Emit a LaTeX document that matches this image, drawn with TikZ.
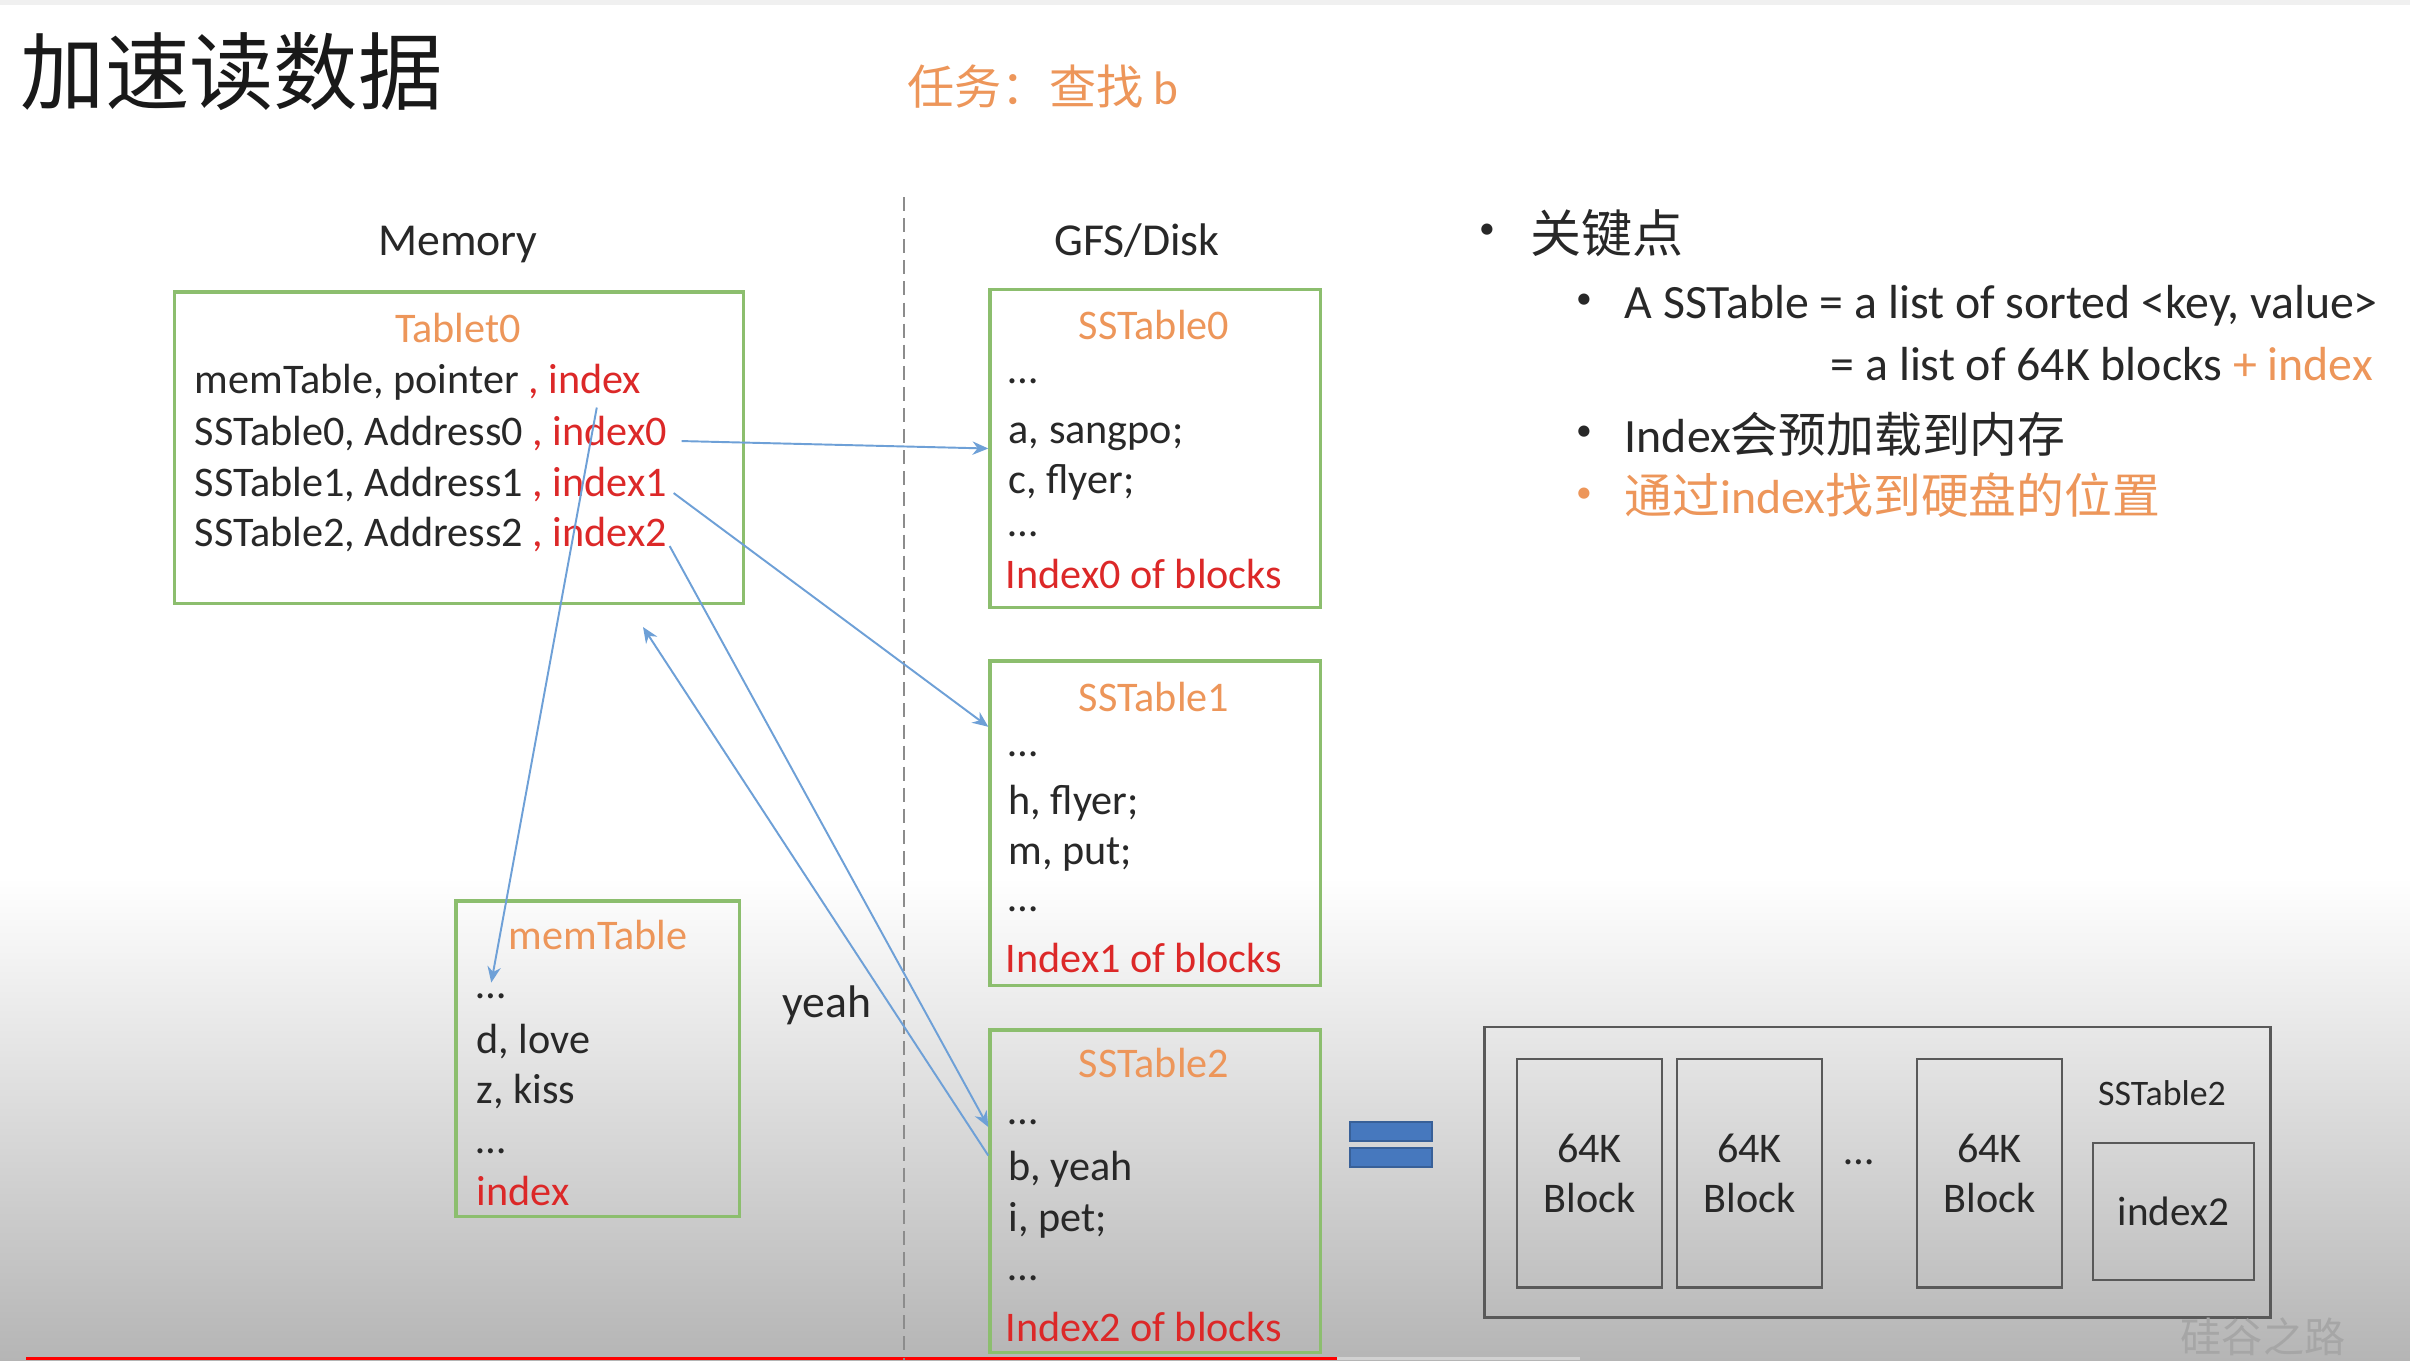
\documentclass[tikz,border=0pt]{standalone}
\usepackage{fontspec}
\setmainfont{Carlito}
\newfontfamily\cjk{Noto Sans CJK SC}
\usepackage{tikz}
\usetikzlibrary{arrows.meta,positioning,calc}
\usepackage{xcolor}
\definecolor{boxgreen}{RGB}{140,190,110}
\definecolor{taborange}{RGB}{237,150,90}
\definecolor{idxred}{RGB}{220,40,40}
\definecolor{linkblue}{RGB}{110,160,215}
\definecolor{eqblue}{RGB}{70,120,190}
\definecolor{inkgray}{RGB}{40,40,40}

\begin{document}
\begin{tikzpicture}[x=0.01cm,y=-0.01cm,>={Stealth[length=4.5pt,width=3.8pt]},
  font=\fontsize{12}{14}\selectfont,text=inkgray]
\tikzstyle{box}=[draw=boxgreen,line width=0.9pt,inner sep=0pt]
\tikzstyle{row}=[anchor=base west,inner sep=0pt]
\tikzstyle{head}=[anchor=base,inner sep=0pt,text=taborange]
\tikzstyle{link}=[draw=linkblue,line width=0.55pt,->]
\tikzstyle{blk}=[draw=black!65,line width=0.8pt,inner sep=0pt,align=center]
\tikzstyle{dot}=[anchor=center,inner sep=0pt,font=\fontsize{9}{10}\selectfont]
\useasboundingbox (0,0) rectangle (2410,1360);
% slide background
\fill[white] (0,0) rectangle (2410,1360);
\shade[top color=white,bottom color=black!29] (0,877) rectangle (2410,1360);
\fill[black!6] (0,0) rectangle (2410,5);
\fill[black!18] (1337,1357) rectangle (1580,1360);
\fill[red] (26,1357) rectangle (1337,1360);

\node[row,text=black!90,font=\cjk\fontsize{24}{28}\selectfont] (title) at (20,103) {加速读数据};
\node[row,text=taborange,font=\fontsize{13.4}{16}\selectfont] (task) at (907,104) {{\cjk 任务：查找} b};
\node[anchor=base,inner sep=0pt,font=\fontsize{13}{16}\selectfont] (memlbl) at (458,255) {Memory};
\node[anchor=base,inner sep=0pt,font=\fontsize{13}{16}\selectfont] (disklbl) at (1137,255) {GFS/Disk};
\draw[black!45,line width=0.6pt,dash pattern=on 4pt off 2pt] (904,197) -- (904,1360);

% memory side
\node[box,minimum width=5.68cm,minimum height=3.11cm] (tablet) at (459,447.5) {};
\node[head] (tablethd) at (458,342) {Tablet0};
\node[row] (r0) at (194,393) {memTable, pointer \textcolor{idxred}{, index}};
\node[row] (r1) at (194,445) {SSTable0, Address0 \textcolor{idxred}{, index0}};
\node[row] (r2) at (194,496) {SSTable1, Address1 \textcolor{idxred}{, index1}};
\node[row] (r3) at (194,546) {SSTable2, Address2 \textcolor{idxred}{, index2}};

\node[box,minimum width=2.83cm,minimum height=3.15cm] (mem) at (597.5,1058.5) {};
\node[head] (memhd) at (598,949) {memTable};
\node[row] (m1) at (476,998) {…};
\node[row] (m2) at (476,1053) {d, love};
\node[row] (m3) at (476,1103) {z, kiss};
\node[row] (m4) at (476,1153) {…};
\node[row,text=idxred] (m5) at (476,1205) {index};

\node[anchor=base,inner sep=0pt,font=\fontsize{13}{16}\selectfont] (yeah) at (827,1017) {yeah};

% disk side
\node[box,minimum width=3.3cm,minimum height=3.17cm] (sst0) at (1155,448.5) {};
\node[head] (sst0hd) at (1154,339) {SSTable0};
\node[row] (a1) at (1008,383) {…};
\node[row] (a2) at (1008,443) {a, sangpo;};
\node[row] (a3) at (1008,493) {c, flyer;};
\node[row] (a4) at (1008,536) {…};
\node[row,text=idxred] (a5) at (1005,588) {Index0 of blocks};

\node[box,minimum width=3.3cm,minimum height=3.24cm] (sst1) at (1155,823) {};
\node[head] (sst1hd) at (1154,711) {SSTable1};
\node[row] (b1) at (1008,756) {…};
\node[row] (b2) at (1008,814) {h, flyer;};
\node[row] (b3) at (1008,864) {m, put;};
\node[row] (b4) at (1008,911) {…};
\node[row,text=idxred] (b5) at (1005,972) {Index1 of blocks};

\node[box,minimum width=3.3cm,minimum height=3.22cm] (sst2) at (1155,1191) {};
\node[head] (sst2hd) at (1154,1077) {SSTable2};
\node[row] (c1) at (1008,1124) {…};
\node[row] (c2) at (1008,1180) {b, yeah};
\node[row] (c3) at (1008,1231) {i, pet;};
\node[row] (c4) at (1008,1280) {…};
\node[row,text=idxred] (c5) at (1005,1341) {Index2 of blocks};

% links
\coordinate (hit) at (643,627);
\draw[link] ($(r1.east)+(14,8)$) -- (sst0.west);
\draw[link] ($(r2.east)+(6,9)$) -- (sst1.150);
\draw[link] ($(r3.east)+(2,12)$) -- (sst2.159);
\draw[link] ($(r0.south east)+(-45,7)$) -- ($(m1.north)+(0,-10)$);
\draw[link] (sst2.168) -- (hit);

% sstable layout
\node[draw=eqblue!80!black,fill=eqblue,line width=0.4pt,minimum width=0.82cm,minimum height=0.19cm,inner sep=0pt] (eqtop) at (1391,1131.5) {};
\node[draw=eqblue!80!black,fill=eqblue,line width=0.4pt,minimum width=0.82cm,minimum height=0.19cm,inner sep=0pt] (eqbot) at (1391,1157.5) {};
\node[blk,minimum width=7.85cm,minimum height=2.9cm] (layout) at (1877.5,1172) {};
\node[blk,minimum width=1.45cm,minimum height=2.28cm,font=\fontsize{12}{14.2}\selectfont] (blkA) at (1589.5,1173) {64K\\Block};
\node[blk,minimum width=1.45cm,minimum height=2.28cm,font=\fontsize{12}{14.2}\selectfont] (blkB) at (1749.5,1173) {64K\\Block};
\node[anchor=base,inner sep=0pt] (blkdots) at (1859,1164) {…};
\node[blk,minimum width=1.45cm,minimum height=2.28cm,font=\fontsize{12}{14.2}\selectfont] (blkC) at (1989.5,1173) {64K\\Block};
\node[anchor=base,inner sep=0pt,font=\fontsize{10.2}{12}\selectfont] (layouthd) at (2162,1105) {SSTable2};
\node[blk,minimum width=1.61cm,minimum height=1.37cm,font=\fontsize{11.7}{14}\selectfont] (idx2) at (2173.5,1211.5) {index2};

% key points
\node[dot] (p0) at (1487,231) {•};
\node[row,font=\cjk\fontsize{14.5}{17}\selectfont] (k0) at (1530,252) {关键点};
\node[dot] (p1) at (1584,301) {•};
\node[row,font=\fontsize{13.6}{16}\selectfont] (k1) at (1624,318) {A SSTable = a list of sorted <key, value>};
\node[row,font=\fontsize{13.6}{16}\selectfont] (k2) at (1830,380) {= a list of 64K blocks \textcolor{taborange}{+ index}};
\node[dot] (p2) at (1584,433) {•};
\node[row,font=\fontsize{13.6}{16}\selectfont] (k3) at (1624,452) {Index{\cjk 会预加载到内存}};
\node[dot,text=taborange] (p3) at (1584,495) {•};
\node[row,text=taborange,font=\fontsize{13.6}{16}\selectfont] (k4) at (1624,513) {{\cjk 通过}index{\cjk 找到硬盘的位置}};

\node[anchor=base,inner sep=0pt,text=black!35,font=\cjk\fontsize{11.7}{14}\selectfont] (mark) at (2263,1352) {硅谷之路};
\end{tikzpicture}
\end{document}
